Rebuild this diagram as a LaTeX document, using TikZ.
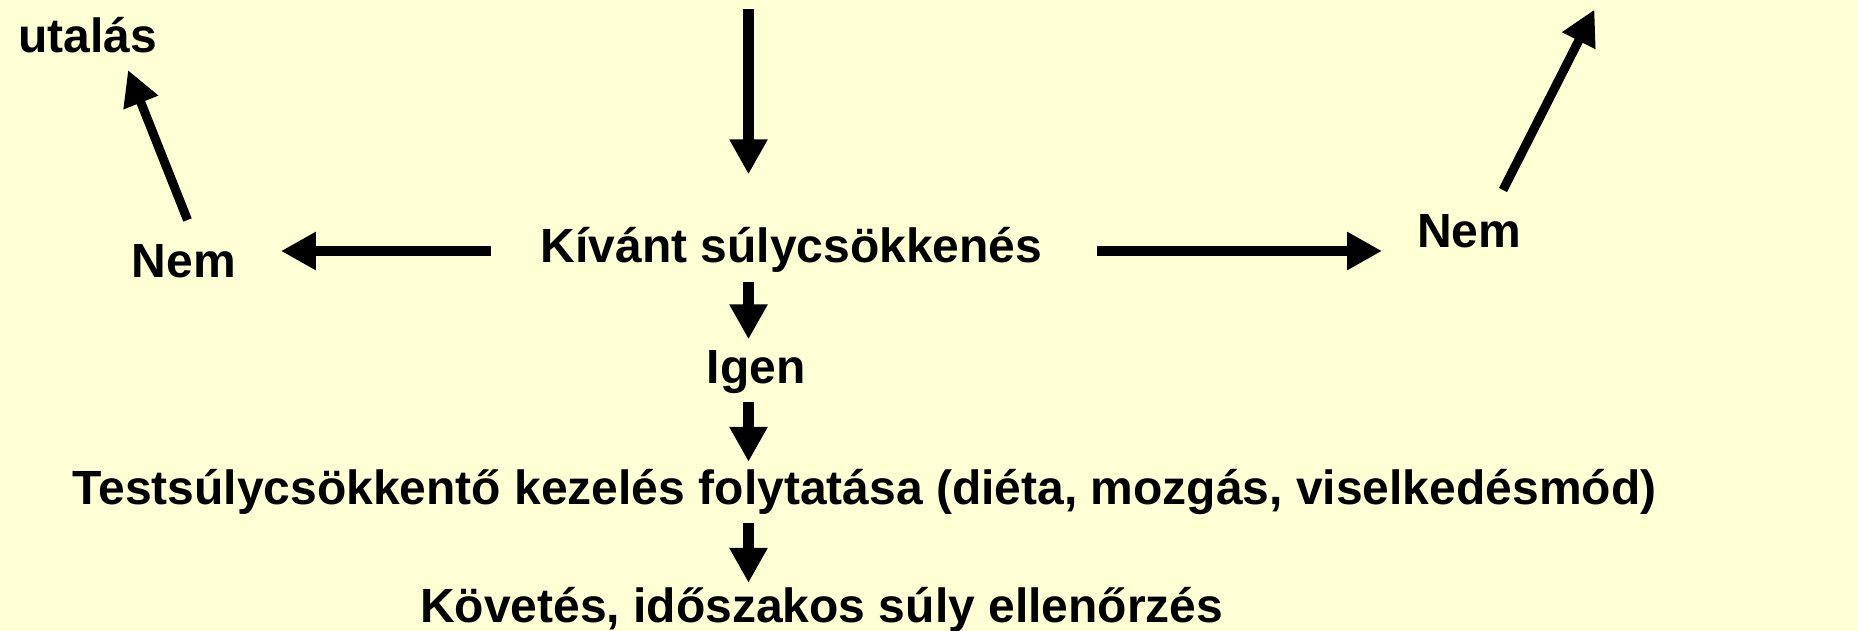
\documentclass[tikz,border=0pt]{standalone}
\usepackage{fontspec}
\setmainfont{Liberation Sans}
\usetikzlibrary{arrows.meta}
\definecolor{bgyellow}{RGB}{255,255,213}
\tikzset{
  lbl/.style={inner sep=0pt, anchor=base west, text height=36pt, text depth=10pt,
    font=\fontsize{48pt}{56pt}\selectfont\bfseries, text=black},
  arr/.style={line width=10.5pt, draw=black, -{Triangle[length=35pt,width=36pt]}},
  darr/.style={line width=9pt, draw=black, -{Triangle[length=35pt,width=35pt]}}
}
\begin{document}
\begin{tikzpicture}[x=1pt,y=-1pt]
  \fill[bgyellow] (0,0) rectangle (1857,631);
  \useasboundingbox (0,0) rectangle (1857,631);

  \node[lbl] (utalas) at (18,53) {utalás};
  \node[lbl] (nemL) at (131.5,277.5) {Nem};
  \node[lbl] (kivant) at (540.5,262) {Kívánt súlycsökkenés};
  \node[lbl] (nemR) at (1417,247) {Nem};
  \node[lbl] (igen) at (706.5,383) {Igen};
  \node[lbl] (test) at (72.5,504) {Testsúlycsökkentő kezelés folytatása (diéta, mozgás, viselkedésmód)};
  \node[lbl] (kovet) at (420,622) {Követés, időszakos súly ellenőrzés};

  \coordinate (topin) at (748.5,9);
  \coordinate (outR) at (1594.5,9.5);

  \draw[arr, shorten >=51.5pt] (topin) -- (topin |- kivant.north);
  \draw[arr] ([shift={(-49.5,-11)}]kivant.base west) -- ([shift={(45,-26.5)}]nemL.base east);
  \draw[arr] ([shift={(54,-11)}]kivant.base east) -- ([shift={(-35,4)}]nemR.base west);
  \draw[darr] ([shift={(56,-57.5)}]nemL.base west) -- ([shift={(110,17)}]utalas.base west);
  \draw[darr] ([shift={(86,-57)}]nemR.base west) -- (outR);
  \draw[arr, shorten <=10pt, shorten >=7.5pt] (topin |- kivant.south) -- (topin |- igen.north);
  \draw[arr, shorten <=9pt, shorten >=6pt] (topin |- igen.south) -- (topin |- test.north);
  \draw[arr, shorten <=9pt, shorten >=3pt] (topin |- test.south) -- (topin |- kovet.north);
\end{tikzpicture}
\end{document}
